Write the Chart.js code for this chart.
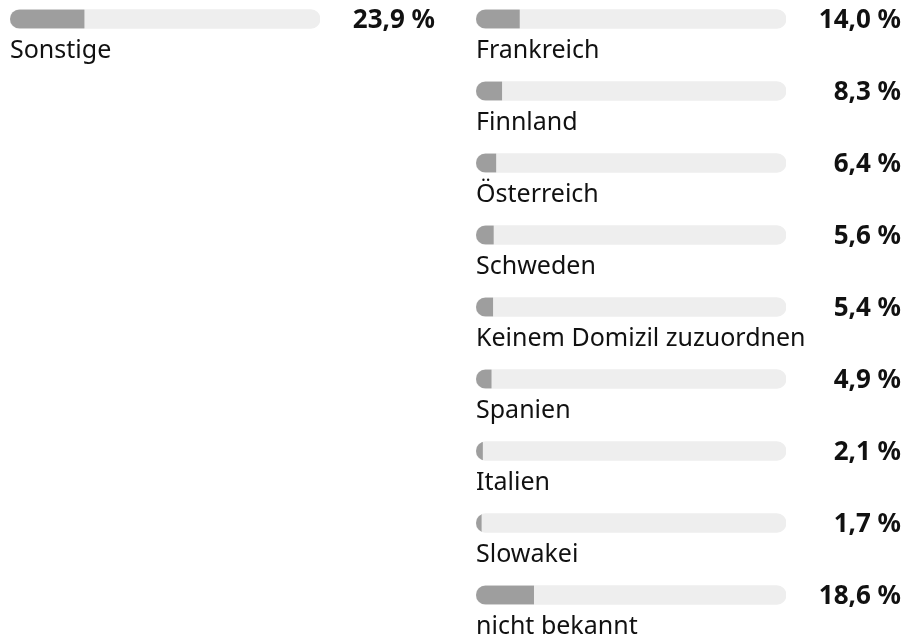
<!DOCTYPE html>
<html lang="de">
<head>
<meta charset="utf-8">
<script src="https://cdn.jsdelivr.net/npm/chart.js@4/dist/chart.umd.min.js"></script>
<style>
  html, body { margin: 0; padding: 0; background: #fff; }
  body { width: 906px; height: 635px; position: relative; overflow: hidden; }
  .col { position: absolute; top: -17px; width: 440px; }
  #colLeft { left: 0; height: 100px; }
  #colRight { left: 466px; height: 676px; }
</style>
</head>
<body>
<div class="col" id="colLeft"><canvas id="chartLeft"></canvas></div>
<div class="col" id="colRight"><canvas id="chartRight"></canvas></div>
<script>
const leftLabels = ["Sonstige"];
const leftValues = [23.9];

const rightLabels = ["Frankreich", "Finnland", "Österreich", "Schweden", "Keinem Domizil zuzuordnen", "Spanien", "Italien", "Slowakei", "nicht bekannt"];
const rightValues = [14.0, 8.3, 6.4, 5.6, 5.4, 4.9, 2.1, 1.7, 18.6];

const scaleMax = 100;
const fillColor = "#9e9e9e";
const trackColor = "#eeeeee";
const textColor = "#111111";
const fontFamily = "'Noto Sans', 'Open Sans', sans-serif";

let chartInstances = {};

// clip the value bars to the rounded track so short bars keep the pill shape
const trackClipPlugin = {
  id: "trackClip",
  beforeDatasetDraw(chart, args) {
    if (args.index !== 0) return;
    const ctx = chart.ctx;
    const track = chart.getDatasetMeta(1).data;
    ctx.save();
    ctx.beginPath();
    track.forEach(bar => {
      const left = Math.min(bar.base, bar.x);
      const w = Math.abs(bar.x - bar.base);
      ctx.roundRect(left, bar.y - bar.height / 2, w, bar.height, bar.height / 2);
    });
    ctx.clip();
  },
  afterDatasetDraw(chart, args) {
    if (args.index !== 0) return;
    chart.ctx.restore();
  }
};

// labels go under each bar, values sit at the right edge
const rowTextPlugin = {
  id: "rowText",
  afterDatasetsDraw(chart) {
    const ctx = chart.ctx;
    const meta = chart.getDatasetMeta(1);
    const labels = chart.data.labels;
    const values = chart.data.datasets[0].data;
    ctx.save();
    ctx.fillStyle = textColor;
    meta.data.forEach((bar, i) => {
      ctx.textAlign = "left";
      ctx.textBaseline = "alphabetic";
      ctx.font = "25px " + fontFamily;
      ctx.fillText(labels[i], chart.chartArea.left, bar.y + 39);
      ctx.textAlign = "right";
      ctx.textBaseline = "middle";
      ctx.font = "bold 26px " + fontFamily;
      ctx.fillText(values[i].toFixed(1).replace(".", ",") + " %", chart.width - 5, bar.y + 2);
    });
    ctx.restore();
  }
};

function createRowChart(key, canvasId, labels, values) {
  const ctx = document.getElementById(canvasId);
  if (!ctx) return;
  chartInstances[key] = new Chart(ctx, {
    type: "bar",
    data: {
      labels: labels,
      datasets: [{
        data: values,
        backgroundColor: fillColor,
        borderRadius: 0,
        borderSkipped: false,
        barThickness: 19,
        grouped: false,
      }, {
        data: labels.map(() => scaleMax),
        backgroundColor: trackColor,
        borderRadius: 10,
        borderSkipped: false,
        barThickness: 19,
        grouped: false,
      }]
    },
    options: {
      responsive: true, maintainAspectRatio: false, animation: false,
      indexAxis: "y",
      layout: { padding: { left: 10, right: 120, top: 0, bottom: 28 } },
      plugins: { legend: { display: false }, tooltip: { enabled: false } },
      scales: {
        x: { display: false, min: 0, max: scaleMax },
        y: { display: false }
      }
    },
    plugins: [trackClipPlugin, rowTextPlugin]
  });
}

createRowChart("left", "chartLeft", leftLabels, leftValues);
createRowChart("right", "chartRight", rightLabels, rightValues);
</script>
</body>
</html>
